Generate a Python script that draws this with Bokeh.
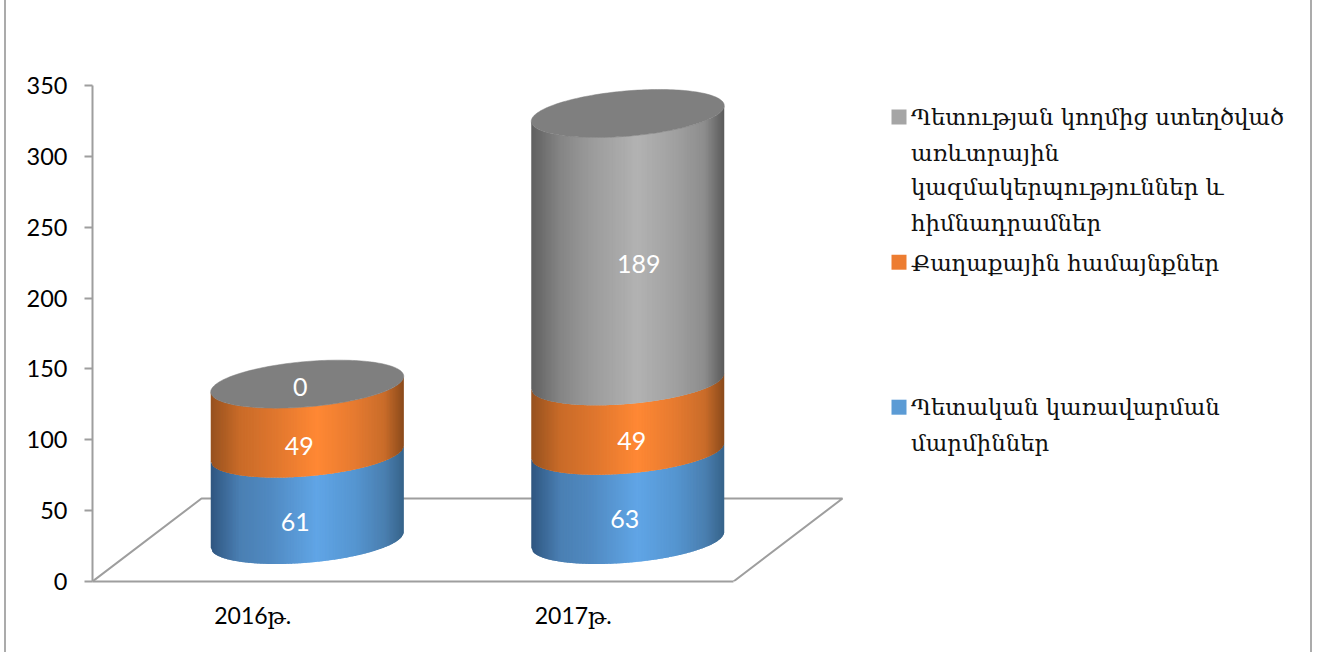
import math
from bokeh.plotting import figure
from bokeh.models import ColumnDataSource, FixedTicker, Range1d
from bokeh.core.properties import value
from bokeh.embed import file_html
from bokeh.resources import INLINE

categories = ["2016թ.", "2017թ."]
blue_values = [61, 63]
orange_values = [49, 49]
gray_values = [0, 189]
y_ticks = [0, 50, 100, 150, 200, 250, 300, 350]
legend_gray = ["Պետության կողմից ստեղծված", "առևտրային", "կազմակերպություններ և", "հիմնադրամներ"]
legend_orange = ["Քաղաքային համայնքներ"]
legend_blue = ["Պետական կառավարման", "մարմիններ"]

# scale of the plot, pixels per unit
PX_X = 320.5
PX_Y = 1.417
W, H = 1318, 652
F_L, F_B = 92, 71
frame_w = W - F_L
frame_h = H - F_B
AXIS_FONT = "Lato, 'DejaVu Serif'"
GRID = "#9e9e9e"
EDGE = "#ababab"

p = figure(width=W, height=H, output_backend="svg", toolbar_location=None,
           frame_width=frame_w, frame_height=frame_h,
           min_border_left=F_L, min_border_right=0, min_border_top=0, min_border_bottom=F_B,
           x_range=Range1d(0, frame_w / PX_X), y_range=Range1d(0, frame_h / PX_Y),
           background_fill_alpha=0, border_fill_alpha=0,
           outline_line_color=None)
p.grid.visible = False
# sheet edges of the original picture, running past the plot frame
p.styles = {
    "background-image": (
        f"linear-gradient(90deg, transparent 4px, {EDGE} 4px, {EDGE} 6px, transparent 6px),"
        f"linear-gradient(90deg, transparent 1310px, {EDGE} 1310px, {EDGE} 1312px, transparent 1312px)"
    )
}

cx_ticks = [i + 0.5 for i in range(len(categories))]
p.xaxis.ticker = FixedTicker(ticks=cx_ticks)
p.xaxis.major_label_overrides = {t: c for t, c in zip(cx_ticks, categories)}
p.xaxis.bounds = (0, len(categories))
p.xaxis.major_tick_line_color = None
p.xaxis.minor_tick_line_color = None
p.xaxis.axis_line_color = GRID
p.xaxis.axis_line_width = 2
p.xaxis.major_label_standoff = 13
p.xaxis.major_label_text_font = AXIS_FONT
p.xaxis.major_label_text_font_size = "23px"
p.xaxis.major_label_text_color = "black"

p.yaxis.ticker = FixedTicker(ticks=y_ticks)
p.yaxis.bounds = (y_ticks[0], y_ticks[-1])
p.yaxis.minor_tick_line_color = None
p.yaxis.major_tick_in = 0
p.yaxis.major_tick_out = 8
p.yaxis.major_tick_line_color = GRID
p.yaxis.major_tick_line_width = 2
p.yaxis.axis_line_color = GRID
p.yaxis.axis_line_width = 2
p.yaxis.major_label_standoff = 17
p.yaxis.major_label_text_font = AXIS_FONT
p.yaxis.major_label_text_font_size = "23.5px"
p.yaxis.major_label_text_color = "black"

# floor of the 3D chart
depth_x = 109 / PX_X
depth_y = 83 / PX_Y
n = len(categories)
p.line([0, depth_x, n + depth_x, n], [0, depth_y, depth_y, 0], line_color=GRID, line_width=2)

# cylinder geometry (oblique projection)
A = 96.5 / PX_X
h = 24 / PX_Y
phi = math.asin(0.326)
STRIPS = 130
OVERLAP = 1.2 / 193  # each strip runs a little under the next one, so no seam shows


def lower_y(frac):
    # frac 0..1 across the width; offset of the lower half of the ellipse
    u = 2 * math.pi - math.acos(2 * frac - 1)
    return h * math.sin(u + phi)


def hexrgb(c):
    return [int(c[i:i + 2], 16) for i in (1, 3, 5)]


def shade(stops, f):
    for (f0, c0), (f1, c1) in zip(stops, stops[1:]):
        if f <= f1:
            t = (f - f0) / (f1 - f0)
            a, b = hexrgb(c0), hexrgb(c1)
            return "#%02x%02x%02x" % tuple(round(a[i] + (b[i] - a[i]) * t) for i in range(3))
    return stops[-1][1]


BLUE = [(0, "#2f5680"), (.15, "#4a7fb3"), (.3, "#5089c0"), (.55, "#60a5e6"), (.75, "#5595d0"), (.9, "#4a7fb0"), (1, "#36638a")]
ORANGE = [(0, "#96511f"), (.15, "#c96b28"), (.3, "#db742d"), (.55, "#ff8834"), (.75, "#e57a30"), (.9, "#c96c2a"), (1, "#8a4a1b")]
GRAY = [(0, "#606060"), (.15, "#858585"), (.3, "#9a9a9a"), (.55, "#b2b2b2"), (.75, "#a0a0a0"), (.9, "#8c8c8c"), (1, "#5a5a5a")]
CAP = "#7f7f7f"

series = [(blue_values, BLUE), (orange_values, ORANGE), (gray_values, GRAY)]
xs, ys, cols = [], [], []
for i in range(n):
    cx = cx_ticks[i] + depth_x / 2
    base = 0.0
    for vals, stops in series:
        v = vals[i]
        if v > 0:
            for k in range(STRIPS):
                f0 = k / STRIPS
                f1 = min(1.0, (k + 1) / STRIPS + OVERLAP)
                x0, x1 = cx + A * (2 * f0 - 1), cx + A * (2 * f1 - 1)
                b = base + depth_y / 2
                xs.append([x0, x1, x1, x0])
                ys.append([b + lower_y(f0), b + lower_y(f1), b + v + lower_y(f1), b + v + lower_y(f0)])
                cols.append(shade(stops, (k + 0.5) / STRIPS))
        base += v
p.patches("xs", "ys", source=ColumnDataSource(dict(xs=xs, ys=ys, c=cols)),
          fill_color="c", line_color=None)

# top caps
for i in range(n):
    total = blue_values[i] + orange_values[i] + gray_values[i]
    cx = cx_ticks[i] + depth_x / 2
    tx, ty = [], []
    for k in range(180):
        u = 2 * math.pi * k / 180
        tx.append(cx + A * math.cos(u))
        ty.append(total + depth_y / 2 + h * math.sin(u + phi))
    p.patch(tx, ty, fill_color=CAP, line_color=CAP, line_width=0.5)

# data labels
lx, ly, lt, ox, oy = [], [], [], [], []
nudges = [[(-12, 25), (-8, 27), (-7, 3)], [(-3, 24), (4, 25), (11, 17)]]
for i in range(n):
    cx = cx_ticks[i] + depth_x / 2
    base = 0.0
    for j, (vals, _) in enumerate(series):
        v = vals[i]
        lx.append(cx)
        ly.append(base + v / 2 + depth_y / 2)
        lt.append(str(v))
        ox.append(nudges[i][j][0])
        oy.append(nudges[i][j][1])
        base += v
p.text("x", "y", text="t", x_offset="ox", y_offset="oy",
       source=ColumnDataSource(dict(x=lx, y=ly, t=lt, ox=ox, oy=oy)),
       text_color="white", text_font=value("Lato"), text_font_size="25px",
       text_align="center", text_baseline="middle")


# legend, placed by page position
def dx(px):
    return (px - F_L) / PX_X


def dy(py):
    return (H - F_B - py) / PX_Y


legend_blocks = [
    (legend_gray, "#a5a5a5", 116.5, [116.7, 152, 186.7, 222]),
    (legend_orange, "#ed7d31", 261.7, [262]),
    (legend_blue, "#5b9bd5", 406.7, [406.7, 442]),
]
for lines, col, swatch_y, bases in legend_blocks:
    p.scatter([dx(898.5)], [dy(swatch_y)], marker="square", size=15, fill_color=col, line_color=None)
    for t, b in zip(lines, bases):
        p.text([dx(910.5)], [dy(b)], text=[t], text_color="#111111",
               text_font=value("DejaVu Serif"), text_font_size="22.8px",
               text_align="left", text_baseline="alphabetic")

open("out.html", "w").write(file_html(p, INLINE))
